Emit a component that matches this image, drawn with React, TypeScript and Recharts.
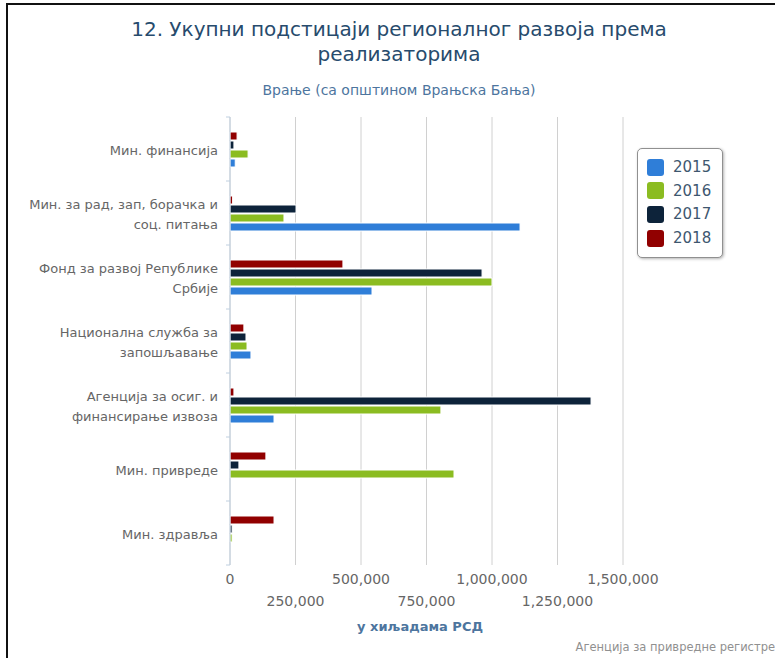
import React from "react";
import { BarChart, Bar, XAxis, YAxis, CartesianGrid } from "recharts";

const categories = [
  "Мин. финансија",
  "Мин. за рад, зап, борачка и соц. питања",
  "Фонд за развој Републике Србије",
  "Национална служба за запошљавање",
  "Агенција за осиг. и финансирање извоза",
  "Мин. привреде",
  "Мин. здравља",
];
const years = ["2015", "2016", "2017", "2018"];
const v2015 = [20000, 1107000, 542000, 80000, 168000, 0, 0];
const v2016 = [69000, 206000, 1000000, 65000, 805000, 855000, 8000];
const v2017 = [15000, 252000, 962000, 61000, 1378000, 34000, 8000];
const v2018 = [27000, 10000, 431000, 53000, 15000, 137000, 168000];
const xTicks = [0, 250000, 500000, 750000, 1000000, 1250000, 1500000];

const colors: Record<string, string> = {
  "2015": "#2f7ed8",
  "2016": "#8bbc21",
  "2017": "#0d233a",
  "2018": "#910000",
};

const data = categories.map((c, i) => ({
  name: c,
  "2015": v2015[i],
  "2016": v2016[i],
  "2017": v2017[i],
  "2018": v2018[i],
}));

const W = 775;
const H = 658;
const M = { top: 117, right: 152, left: 8, bottom: 63 };
const XH = 30;
const YW = 222;
const PLOT_H = H - M.top - M.bottom - XH;
const FONT = "'DejaVu Sans', sans-serif";

function wrap(text: string, max: number): string[] {
  const words = text.split(" ");
  const lines: string[] = [];
  let cur = "";
  for (const w of words) {
    const next = cur ? cur + " " + w : w;
    if (next.length > max && cur) {
      lines.push(cur);
      cur = w;
    } else cur = next;
  }
  if (cur) lines.push(cur);
  return lines;
}

const YTick = (props: any) => {
  const { x, y, payload, index } = props;
  const lines = wrap(String(payload.value), 27);
  const band = PLOT_H / categories.length;
  const axisX = M.left + YW;
  const lh = 20;
  const start = y - ((lines.length - 1) * lh) / 2;
  return (
    <g>
      <line x1={axisX - 4} x2={axisX} y1={y - band / 2} y2={y - band / 2} stroke="#c0d0e0" />
      {index === categories.length - 1 && (
        <line x1={axisX - 4} x2={axisX} y1={y + band / 2} y2={y + band / 2} stroke="#c0d0e0" />
      )}
      <text x={x} y={start} textAnchor="end" fill="#666" fontSize={13} fontFamily={FONT} dominantBaseline="central">
        {lines.map((l, i) => (
          <tspan key={i} x={x} dy={i === 0 ? 1 : lh}>
            {l}
          </tspan>
        ))}
      </text>
    </g>
  );
};

const XTick = (props: any) => {
  const { x, y, payload } = props;
  const idx = xTicks.indexOf(payload.value);
  const dy = idx % 2 === 1 ? 33 : 11;
  return (
    <text x={x} y={y + dy} textAnchor="middle" fill="#666" fontSize={14} fontFamily={FONT}>
      {Number(payload.value).toLocaleString("en-US")}
    </text>
  );
};

export default function App() {
  return (
    <div style={{ position: "absolute", left: 0, top: 0, width: W, height: H, background: "#fff", fontFamily: FONT, overflow: "hidden" }}>
      <div style={{ position: "absolute", left: 6, top: 3, width: W, height: H, borderLeft: "2px solid #111", borderTop: "2px solid #111" }} />
      <div style={{ position: "absolute", left: 0, width: 798, top: 17, textAlign: "center", color: "#274b6d", fontSize: 20, lineHeight: "25px" }}>
        12. Укупни подстицаји регионалног развоја према
        <br />
        реализаторима
      </div>
      <div style={{ position: "absolute", left: 0, width: 798, top: 82, textAlign: "center", color: "#4d759e", fontSize: 14 }}>
        Врање (са општином Врањска Бања)
      </div>
      <BarChart
        width={W}
        height={H}
        data={data}
        layout="vertical"
        margin={M}
        barSize={8}
        barGap={1}
      >
        <CartesianGrid horizontal={false} stroke="#d0d0d0" />
        <XAxis
          type="number"
          domain={[0, 1500000]}
          ticks={xTicks}
          interval={0}
          height={XH}
          axisLine={false}
          tickLine={false}
          tick={<XTick />}
        />
        <YAxis
          type="category"
          dataKey="name"
          width={YW}
          interval={0}
          axisLine={{ stroke: "#c0d0e0" }}
          tickLine={false}
          tickSize={4}
          tickMargin={8}
          tick={<YTick />}
        />
        {[...years].reverse().map((y) => (
          <Bar key={y} dataKey={y} fill={colors[y]} stroke="#fff" strokeWidth={1} isAnimationActive={false} />
        ))}
      </BarChart>
      <div style={{ position: "absolute", left: 0, width: 2 * 420, top: 619, textAlign: "center", color: "#4d759e", fontSize: 13, fontWeight: "bold" }}>
        у хиљадама РСД
      </div>
      <div style={{ position: "absolute", right: 0, top: 640, color: "#909090", fontSize: 11.5, whiteSpace: "nowrap" }}>
        Агенција за привредне регистре
      </div>
      <div
        style={{
          position: "absolute",
          left: 637,
          top: 148,
          width: 84,
          height: 108,
          border: "1px solid #909090",
          borderRadius: 5,
          boxShadow: "1px 1px 3px rgba(0,0,0,0.3)",
          background: "#fff",
        }}
      >
        {years.map((y, i) => (
          <div key={y} style={{ position: "absolute", left: 9, top: 9.5 + i * 23.7, height: 17, display: "flex", alignItems: "center" }}>
            <div style={{ width: 17, height: 17, borderRadius: 3, background: colors[y] }} />
            <span style={{ marginLeft: 9, fontSize: 15, color: "#3e576f" }}>{y}</span>
          </div>
        ))}
      </div>
    </div>
  );
}
